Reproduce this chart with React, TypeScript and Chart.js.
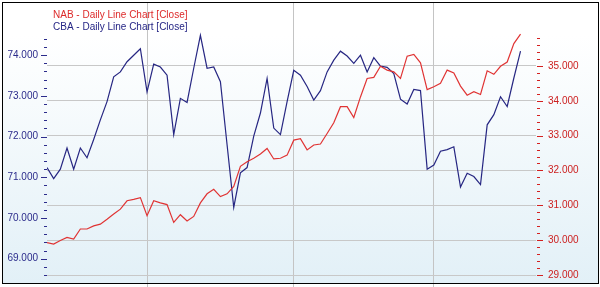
import React, { useEffect, useRef } from 'react';
import { Chart, registerables } from 'chart.js';

Chart.register(...registerables);

// CBA close (left axis)
const cba = [
  71.24, 70.97, 71.2, 71.72, 71.2, 71.72, 71.48, 71.93, 72.41, 72.86,
  73.47, 73.59, 73.84, 74.0, 74.16, 73.1, 73.78, 73.71, 73.51, 72.05,
  72.94, 72.84, 73.68, 74.49, 73.68, 73.71, 73.35, 71.8, 70.26, 71.11,
  71.24, 72.01, 72.58, 73.43, 72.21, 72.05, 72.86, 73.63, 73.51, 73.23,
  72.9, 73.13, 73.59, 73.88, 74.1, 73.98, 73.8, 74.0, 73.59, 73.94,
  73.73, 73.7, 73.55, 72.92, 72.8, 73.16, 73.13, 71.2, 71.3, 71.64,
  71.68, 71.75, 70.76, 71.1, 71.02, 70.82, 72.29, 72.54, 72.98, 72.74,
  73.44, 74.1,
];

// NAB close (right axis)
const nab = [
  29.93, 29.89, 29.99, 30.08, 30.03, 30.32, 30.32, 30.41, 30.46, 30.6,
  30.75, 30.89, 31.13, 31.17, 31.22, 30.7, 31.13, 31.07, 31.02, 30.51,
  30.73, 30.55, 30.68, 31.07, 31.33, 31.46, 31.25, 31.33, 31.54, 32.12,
  32.25, 32.35, 32.47, 32.63, 32.33, 32.35, 32.44, 32.87, 32.91, 32.59,
  32.73, 32.76, 33.06, 33.37, 33.83, 33.83, 33.52, 34.11, 34.64, 34.67,
  34.99, 34.88, 34.83, 34.64, 35.28, 35.33, 35.09, 34.32, 34.4, 34.5,
  34.88, 34.8, 34.42, 34.16, 34.26, 34.18, 34.86, 34.76, 34.99, 35.11,
  35.64, 35.91,
];

// trading-day index where each new month starts (vertical grid lines)
const monthStarts = [15, 37, 58];

// axis tick ranges (major labels every 1, minor ticks every 0.2)
const leftTickRange = [68.6, 74.4];
const rightTickRange = [29.0, 35.8];
const minorStep = 0.2;

const legendItems = [
  { text: 'NAB - Daily Line Chart [Close]', color: '#dd2a2a' },
  { text: 'CBA - Daily Line Chart [Close]', color: '#252585' },
];

const FONT = '"Liberation Sans", Arial, sans-serif';

function makeTicks(range: number[]) {
  const out: { value: number }[] = [];
  const n = Math.round((range[1] - range[0]) / minorStep);
  for (let i = 0; i <= n; i++) {
    out.push({ value: Math.round((range[0] + i * minorStep) * 1000) / 1000 });
  }
  return out;
}

const isMajor = (v: number) => Math.abs(v - Math.round(v)) < 1e-6;

const zeroPad = (s: any) => {
  s.paddingTop = 0;
  s.paddingBottom = 0;
  s.paddingLeft = 0;
  s.paddingRight = 0;
};

export default function App() {
  const ref = useRef<HTMLCanvasElement | null>(null);

  useEffect(() => {
    document.body.style.margin = '0';
    const canvas = ref.current;
    if (!canvas) return;

    const bgPlugin = {
      id: 'bg',
      beforeDraw(chart: any) {
        const ctx = chart.ctx;
        ctx.save();
        ctx.fillStyle = '#ffffff';
        ctx.fillRect(0, 0, chart.width, chart.height);
        const g = ctx.createLinearGradient(0, 2, 0, 284);
        g.addColorStop(0, '#ffffff');
        g.addColorStop(0.12, '#ffffff');
        g.addColorStop(1, '#e2f0f7');
        ctx.fillStyle = g;
        ctx.fillRect(2, 2, 597, 282);
        ctx.restore();
      },
    };

    const overlayPlugin = {
      id: 'overlay',
      afterDraw(chart: any) {
        const ctx = chart.ctx;
        const area = chart.chartArea;
        ctx.save();
        const drawTicks = (scale: any, side: 'left' | 'right', color: string) => {
          ctx.strokeStyle = color;
          ctx.lineWidth = 1;
          for (const t of scale.ticks) {
            const y = Math.round(scale.getPixelForValue(t.value)) + 0.5;
            const len = isMajor(t.value) ? 6 : 3;
            ctx.beginPath();
            if (side === 'left') {
              ctx.moveTo(area.left - len, y);
              ctx.lineTo(area.left, y);
            } else {
              ctx.moveTo(area.right + 1, y);
              ctx.lineTo(area.right + 1 + len, y);
            }
            ctx.stroke();
          }
        };
        drawTicks(chart.scales.yL, 'left', '#2b2b8b');
        drawTicks(chart.scales.yR, 'right', '#d42020');

        ctx.strokeStyle = '#000000';
        ctx.lineWidth = 1;
        ctx.strokeRect(2.5, 2.5, 596, 281);

        ctx.font = '10px ' + FONT;
        ctx.textBaseline = 'alphabetic';
        ctx.textAlign = 'left';
        legendItems.forEach((it, i) => {
          ctx.fillStyle = it.color;
          ctx.fillText(it.text, 53, 17.5 + i * 12);
        });
        ctx.restore();
      },
    };

    const chart = new Chart(canvas, {
      type: 'line',
      data: {
        datasets: [
          {
            label: 'NAB',
            data: nab.map((v, i) => ({ x: i, y: v })),
            yAxisID: 'yR',
            borderColor: '#e03434',
            borderWidth: 1.2,
            pointRadius: 0,
            tension: 0,
            fill: false,
          },
          {
            label: 'CBA',
            data: cba.map((v, i) => ({ x: i, y: v })),
            yAxisID: 'yL',
            borderColor: '#262682',
            borderWidth: 1.2,
            pointRadius: 0,
            tension: 0,
            fill: false,
          },
        ],
      },
      options: {
        responsive: false,
        animation: false,
        layout: { autoPadding: false, padding: { top: 3, left: 0, right: 0, bottom: 0 } },
        plugins: {
          legend: { display: false },
          tooltip: { enabled: false },
        },
        scales: {
          x: {
            type: 'linear',
            min: 0,
            max: 73.32,
            border: { display: false },
            grid: { color: '#c4c4c4', drawTicks: false, lineWidth: 1 },
            ticks: { display: false },
            afterBuildTicks: (s: any) => {
              s.ticks = monthStarts.map((v) => ({ value: v }));
            },
            afterFit: (s: any) => {
              s.height = 0;
              zeroPad(s);
            },
          },
          yL: {
            type: 'linear',
            position: 'left',
            min: 68.305,
            max: 75.283,
            border: { display: false },
            grid: { drawOnChartArea: false, drawTicks: false },
            ticks: {
              autoSkip: false,
              padding: 9,
              color: '#2b2b8b',
              font: { family: FONT, size: 10 },
              callback: (v: any) => (isMajor(Number(v)) ? Number(v).toFixed(3) : ''),
            },
            afterBuildTicks: (s: any) => {
              s.ticks = makeTicks(leftTickRange);
            },
            afterFit: (s: any) => {
              s.width = 47;
              zeroPad(s);
            },
          },
          yR: {
            type: 'linear',
            position: 'right',
            min: 28.656,
            max: 36.805,
            border: { display: false },
            grid: {
              drawTicks: false,
              lineWidth: 1,
              color: (c: any) => (c.tick && isMajor(c.tick.value) ? '#c8c8c8' : 'rgba(0,0,0,0)'),
            },
            ticks: {
              autoSkip: false,
              padding: 12,
              color: '#cc2020',
              font: { family: FONT, size: 10 },
              callback: (v: any) => (isMajor(Number(v)) ? Number(v).toFixed(3) : ''),
            },
            afterBuildTicks: (s: any) => {
              s.ticks = makeTicks(rightTickRange);
            },
            afterFit: (s: any) => {
              s.width = 64;
              zeroPad(s);
            },
          },
        },
      },
      plugins: [bgPlugin, overlayPlugin],
    } as any);

    return () => chart.destroy();
  }, []);

  return (
    <div style={{ width: 600, height: 287 }}>
      <canvas ref={ref} width={600} height={287} style={{ display: 'block' }} />
    </div>
  );
}
